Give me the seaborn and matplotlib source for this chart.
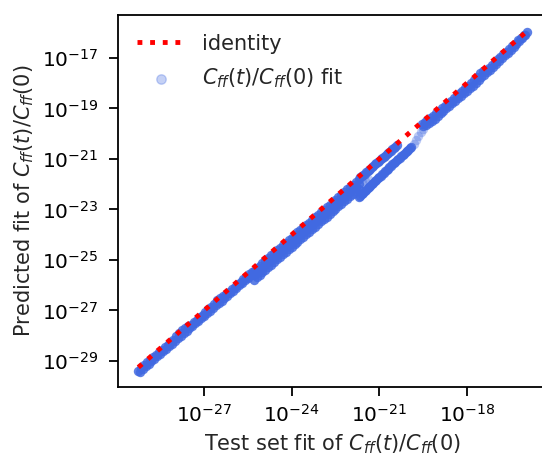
import numpy as np
import matplotlib
matplotlib.use("Agg")
import matplotlib.pyplot as plt
from matplotlib.ticker import FixedLocator, NullLocator
import seaborn as sns

# log10 of (test set fit, predicted fit)

# lower-left strand, two rows
a1_x = [-29.25, -29.15, -29.05, -28.95, -28.85, -28.75, -28.65, -28.55, -28.45, -28.35,
        -28.25, -28.15, -28.05, -27.95, -27.85, -27.75, -27.65, -27.55, -27.45, -27.35,
        -27.25, -27.15, -27.05, -26.95, -26.85, -26.75, -26.65, -26.55, -26.45, -26.35,
        -26.25, -26.15, -26.05, -25.95, -25.85, -25.75, -25.65, -25.55, -25.45, -25.35]
a1_y = [-29.38, -29.26, -29.16, -29.06, -28.96, -28.86, -28.76, -28.66, -28.56, -28.46,
        -28.36, -28.26, -28.15, -28.03, -27.91, -27.78, -27.69, -27.63, -27.56, -27.46,
        -27.36, -27.26, -27.16, -27.06, -26.96, -26.85, -26.73, -26.60, -26.49, -26.42,
        -26.35, -26.26, -26.16, -26.06, -25.96, -25.86, -25.76, -25.66, -25.56, -25.46]
a2_x = [-29.2, -29.1, -29.0, -28.9, -28.8, -28.7, -28.6, -28.5, -28.4, -28.3,
        -28.2, -28.1, -28.0, -27.9, -27.8, -27.7, -27.6, -27.5, -27.4, -27.3,
        -27.2, -27.1, -27.0, -26.9, -26.8, -26.7, -26.6, -26.5, -26.4, -26.3,
        -26.2, -26.1, -26.0, -25.9, -25.8, -25.7, -25.6, -25.5, -25.4, -25.3]
a2_y = [-29.42, -29.31, -29.21, -29.11, -29.01, -28.91, -28.81, -28.71, -28.61, -28.51,
        -28.41, -28.31, -28.21, -28.11, -28.00, -27.90, -27.81, -27.71, -27.61, -27.51,
        -27.41, -27.31, -27.21, -27.11, -27.01, -26.91, -26.80, -26.70, -26.61, -26.51,
        -26.41, -26.31, -26.21, -26.11, -26.01, -25.91, -25.81, -25.71, -25.61, -25.51]

# thick middle part, three rows
t_x = [-25.3, -25.2, -25.1, -25.0, -24.9, -24.8, -24.7, -24.6, -24.5, -24.4,
       -24.3, -24.2, -24.1, -24.0, -23.9, -23.8, -23.7, -23.6, -23.5, -23.4,
       -23.3, -23.2, -23.1, -23.0, -22.9, -22.8, -22.7, -22.6, -22.5, -22.4,
       -22.3, -22.2, -22.1, -22.0, -21.9, -21.8, -21.7]
t1_y = [-25.42, -25.31, -25.22, -25.12, -25.02, -24.91, -24.80, -24.71, -24.62, -24.52,
        -24.41, -24.31, -24.21, -24.12, -24.02, -23.91, -23.80, -23.71, -23.62, -23.52,
        -23.42, -23.31, -23.21, -23.12, -23.02, -22.92, -22.81, -22.71, -22.62, -22.52,
        -22.42, -22.31, -22.21, -22.12, -22.02, -21.91, -21.81]
t2_y = [-25.60, -25.50, -25.41, -25.30, -25.20, -25.10, -25.00, -24.91, -24.80, -24.70,
        -24.60, -24.50, -24.40, -24.31, -24.20, -24.10, -24.00, -23.90, -23.81, -23.70,
        -23.60, -23.50, -23.40, -23.31, -23.20, -23.10, -23.00, -22.90, -22.81, -22.70,
        -22.60, -22.50, -22.40, -22.31, -22.20, -22.10, -22.00]
t3_y = [-25.78, -25.68, -25.58, -25.48, -25.38, -25.28, -25.18, -25.08, -24.97, -24.88,
        -24.78, -24.68, -24.58, -24.48, -24.38, -24.28, -24.18, -24.08, -23.98, -23.88,
        -23.78, -23.68, -23.58, -23.46, -23.38, -23.28, -23.18, -23.08, -22.98, -22.88,
        -22.78, -22.68, -22.58, -22.48, -22.38, -22.28, -22.18]

# faint joint where the band splits
j_x = [-21.6, -21.5, -21.4]
j_y = [-21.93, -21.87, -21.80]

# upper strand after the split
u_x = [-21.65, -21.60, -21.55, -21.50, -21.45, -21.40, -21.35, -21.30, -21.25, -21.20,
       -21.15, -21.10, -21.05, -21.00, -20.95, -20.90, -20.85, -20.80, -20.75, -20.70,
       -20.65, -20.60, -20.55, -20.50, -20.45, -20.40]
u_y = [-21.73, -21.68, -21.63, -21.58, -21.53, -21.48, -21.43, -21.38, -21.33, -21.27,
       -21.22, -21.17, -21.12, -21.07, -21.02, -20.97, -20.92, -20.87, -20.82, -20.77,
       -20.72, -20.67, -20.62, -20.57, -20.52, -20.46]

# lower branch, fading as it climbs back to the main strand
b_x = [-21.70, -21.65, -21.60, -21.55, -21.50, -21.45, -21.40, -21.35, -21.30, -21.25,
       -21.20, -21.15, -21.10, -21.05, -21.00, -20.95, -20.90, -20.85, -20.80, -20.75,
       -20.70, -20.65, -20.60, -20.55, -20.50, -20.45, -20.40, -20.35, -20.30, -20.25,
       -20.20, -20.15, -20.10, -20.05, -20.00, -19.95, -19.90]
b_y = [-22.50, -22.45, -22.39, -22.34, -22.28, -22.23, -22.17, -22.12, -22.06, -22.00,
       -21.95, -21.89, -21.83, -21.77, -21.72, -21.66, -21.60, -21.54, -21.48, -21.43,
       -21.38, -21.32, -21.27, -21.22, -21.16, -21.11, -21.06, -21.00, -20.95, -20.90,
       -20.84, -20.79, -20.74, -20.68, -20.63, -20.58, -20.52]
rise_x = [-19.82, -19.74, -19.66, -19.58, -19.51]
rise_y = [-20.40, -20.26, -20.10, -19.95, -19.82]

# upper-right strand, two rows
c1_x = [-19.55, -19.45, -19.35, -19.25, -19.15, -19.05, -18.95, -18.85, -18.75, -18.65,
        -18.55, -18.45, -18.35, -18.25, -18.15, -18.05, -17.95, -17.85, -17.75, -17.65,
        -17.55, -17.45, -17.35, -17.25, -17.15, -17.05, -16.95, -16.85, -16.75, -16.65,
        -16.55, -16.45, -16.35, -16.25, -16.15, -16.05, -15.95]
c1_y = [-19.60, -19.53, -19.46, -19.39, -19.30, -19.20, -19.10, -19.00, -18.90, -18.80,
        -18.70, -18.60, -18.50, -18.40, -18.30, -18.20, -18.10, -18.00, -17.88, -17.74,
        -17.60, -17.50, -17.46, -17.38, -17.28, -17.18, -17.06, -16.96, -16.86, -16.76,
        -16.65, -16.54, -16.43, -16.31, -16.20, -16.09, -15.97]
c2_x = [-19.5, -19.4, -19.3, -19.2, -19.1, -19.0, -18.9, -18.8, -18.7, -18.6,
        -18.5, -18.4, -18.3, -18.2, -18.1, -18.0, -17.9, -17.8, -17.7, -17.6,
        -17.5, -17.4, -17.3, -17.2, -17.1, -17.0, -16.9, -16.8, -16.7, -16.6,
        -16.5, -16.4, -16.3, -16.2, -16.1, -16.0]
c2_y = [-19.68, -19.64, -19.58, -19.50, -19.40, -19.30, -19.20, -19.10, -19.00, -18.90,
        -18.80, -18.70, -18.60, -18.50, -18.40, -18.30, -18.20, -18.10, -18.00, -17.88,
        -17.76, -17.66, -17.56, -17.46, -17.34, -17.24, -17.12, -17.02, -16.90, -16.80,
        -16.68, -16.56, -16.44, -16.32, -16.20, -16.08]

x_ticks = [1e-27, 1e-24, 1e-21, 1e-18]
y_ticks = [1e-29, 1e-27, 1e-25, 1e-23, 1e-21, 1e-19, 1e-17]

fit_label = r"$C_{ff}(t)/C_{ff}(0)$"

# dense strands and the faint, sparse parts (joint and climb) are drawn apart
log_test = np.concatenate([a1_x, a2_x, t_x, t_x, t_x, u_x, b_x, c1_x, c2_x])
log_pred = np.concatenate([a1_y, a2_y, t1_y, t2_y, t3_y, u_y, b_y, c1_y, c2_y])
faint_test = 10.0 ** np.concatenate([j_x, rise_x])
faint_pred = 10.0 ** np.concatenate([j_y, rise_y])
test = 10.0 ** log_test
pred = 10.0 ** log_pred

sns.set_style("ticks")
plt.rcParams["font.family"] = ["DejaVu Sans"]
plt.rcParams["axes.linewidth"] = 1.3

fig = plt.figure(figsize=(5.42, 4.57), dpi=100)
ax = fig.add_axes([0.2186, 0.1521, 0.7882, 0.8151])

lo, hi = test.min(), test.max()
sns.lineplot(x=[lo, hi], y=[lo, hi], color="red", linestyle=(0, (1, 1.6)),
             linewidth=3.5, label="identity", ax=ax, zorder=3)
sns.scatterplot(x=test, y=pred, s=46, color="royalblue", alpha=0.85,
                linewidth=0, label=fit_label + " fit", ax=ax, zorder=2)
sns.scatterplot(x=faint_test, y=faint_pred, s=46, color="royalblue", alpha=0.35,
                linewidth=0, ax=ax, zorder=2)

ax.set_xscale("log")
ax.set_yscale("log")
ax.set_xlim(10 ** -29.93, 10 ** -15.3)
ax.set_ylim(10 ** -30.05, 10 ** -15.3)
ax.xaxis.set_major_locator(FixedLocator(x_ticks))
ax.yaxis.set_major_locator(FixedLocator(y_ticks))
ax.xaxis.set_minor_locator(NullLocator())
ax.yaxis.set_minor_locator(NullLocator())
ax.tick_params(axis="both", which="major", direction="out", length=6.5,
               width=1.3, labelsize=14.5, color="black", labelcolor="black")
ax.tick_params(axis="y", pad=8)
ax.tick_params(axis="x", pad=5)
for sp in ax.spines.values():
    sp.set_color("black")
    sp.set_linewidth(1.3)

ax.set_xlabel("Test set fit of " + fit_label, fontsize=15, labelpad=5)
ax.set_ylabel("Predicted fit of " + fit_label, fontsize=15, labelpad=4)
leg = ax.legend(loc="upper left", frameon=False, fontsize=15,
                handlelength=2.3, labelspacing=0.6)
dots = leg.legend_handles[1]
dots.set_alpha(0.3)
dots.set_edgecolor("royalblue")
dots.set_linewidth(1)

fig.savefig("out.png", dpi=100)
